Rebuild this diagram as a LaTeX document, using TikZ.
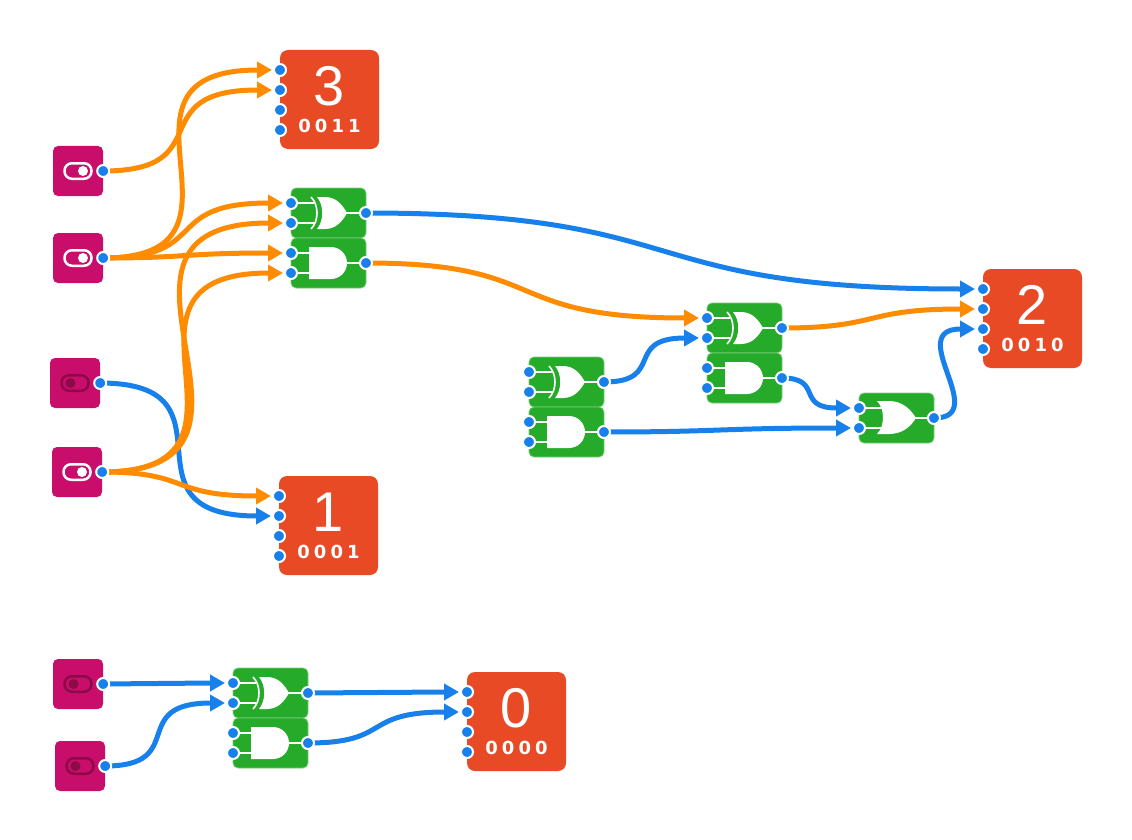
\documentclass[tikz,border=0pt]{standalone}
\usepackage{fontspec}
\newfontfamily\dispfont{Liberation Sans}
\newfontfamily\bitsfont{DejaVu Sans}
\usetikzlibrary{calc,arrows.meta}
\definecolor{swcol}{RGB}{200,14,106}
\definecolor{swdark}{RGB}{140,10,72}
\definecolor{dispcol}{RGB}{233,74,38}
\definecolor{gatecol}{RGB}{38,170,42}
\definecolor{gateseam}{RGB}{120,205,120}
\definecolor{wireblue}{RGB}{24,128,235}
\definecolor{wireorange}{RGB}{255,140,0}
\tikzset{
  switchbox/.style={rectangle, rounded corners=5pt, fill=swcol, minimum size=50pt, inner sep=0pt},
  dispbox/.style={rectangle, rounded corners=8pt, fill=dispcol, minimum size=99pt, inner sep=0pt},
  gatebox/.style={rectangle, rounded corners=5pt, fill=gatecol, draw=gateseam, line width=0.7pt, minimum width=75pt, minimum height=50pt, inner sep=0pt},
  gatesym/.style={fill=white, draw=none},
  gateline/.style={draw=white, line width=1.6pt},
  wire/.style={line width=5pt, -{Triangle[length=15pt,width=16pt]}},
  wireon/.style={wire, draw=wireorange},
  wireoff/.style={wire, draw=wireblue},
  port/.style={fill=wireblue, draw=white, line width=2pt},
  digit/.style={font=\dispfont\fontsize{56}{56}\selectfont, text=white, inner sep=0pt},
  bits/.style={font=\bitsfont\bfseries\fontsize{18}{18}\selectfont, text=white, inner sep=0pt},
}
\newcommand\bitstr[4]{#1\kern4pt#2\kern4pt#3\kern4pt#4}
% switches: name, x0, y0
\newcommand\switchon[3]{%
  \node[switchbox] (#1) at (#2+25,#3+25) {};
  \draw[white, line width=2.5pt, rounded corners=7.5pt] (#2+11.5,#3+17.25) rectangle (#2+38.5,#3+32.75);
  \fill[white] (#2+30,#3+25) circle (5pt);
  \coordinate (#1-o) at (#1.east);}
\newcommand\switchoff[3]{%
  \node[switchbox] (#1) at (#2+25,#3+25) {};
  \draw[swdark, line width=2.5pt, rounded corners=7.5pt] (#2+11.5,#3+17.25) rectangle (#2+38.5,#3+32.75);
  \fill[swdark] (#2+20.5,#3+25) circle (5pt);
  \coordinate (#1-o) at (#1.east);}
% displays: name, x0, y0, digit, bits
\newcommand\display[5]{%
  \node[dispbox] (#1) at (#2+49.5,#3+49.5) {};
  \node[digit] (#1-n) at (#2+49.5,#3+36) {#4};
  \node[bits] (#1-b) at (#2+49.5,#3+75.5) {#5};
  \coordinate (#1-1) at (#2,#3+20);
  \coordinate (#1-2) at (#2,#3+40);
  \coordinate (#1-3) at (#2,#3+60);
  \coordinate (#1-4) at (#2,#3+80);}
% gates: name, x0, y0
\newcommand\gateports[3]{%
  \coordinate (#1-a) at (#2,#3+15);
  \coordinate (#1-b) at (#2,#3+35);
  \coordinate (#1-o) at (#2+75,#3+25);}
\newcommand\gxor[3]{%
  \node[gatebox] (#1) at (#2+37.5,#3+25) {};
  \begin{scope}[shift={(#2,#3)}]
    \draw[gateline] (0,15) -- (23,15) (0,35) -- (23,35) (55,25) -- (75,25);
    \draw[gateline] (20,9) .. controls (28,17) and (28,33) .. (20,41);
    \fill[gatesym] (26,9) -- (34,9) .. controls (46,9) and (52,18) .. (56,25)
      .. controls (52,32) and (46,41) .. (34,41) -- (26,41)
      .. controls (33,33) and (33,17) .. cycle;
  \end{scope}
  \gateports{#1}{#2}{#3}}
\newcommand\gor[3]{%
  \node[gatebox] (#1) at (#2+37.5,#3+25) {};
  \begin{scope}[shift={(#2,#3)}]
    \draw[gateline] (0,15) -- (24,15) (0,35) -- (24,35) (56,25) -- (75,25);
    \fill[gatesym] (18,8) -- (30,8) .. controls (44,8) and (52,17) .. (57,25)
      .. controls (52,33) and (44,41) .. (30,41) -- (18,41)
      .. controls (26,33) and (26,16) .. cycle;
  \end{scope}
  \gateports{#1}{#2}{#3}}
\newcommand\gand[3]{%
  \node[gatebox] (#1) at (#2+37.5,#3+25) {};
  \begin{scope}[shift={(#2,#3)}]
    \draw[gateline] (0,15) -- (20,15) (0,35) -- (20,35) (55,25) -- (75,25);
    \fill[gatesym] (18,9) -- (40,9) .. controls (48.8,9) and (56,16.2) .. (56,25)
      .. controls (56,33.8) and (48.8,41) .. (40,41) -- (18,41) -- cycle;
  \end{scope}
  \gateports{#1}{#2}{#3}}
% wire: style, from, to, control distance
\newcommand\wire[4]{\draw[#1] (#2) .. controls +(#4,0) and +(-#4,0) .. ($(#3)+(-22,0)$) -- ($(#3)+(-8,0)$);}
\begin{document}
\begin{tikzpicture}[x=1pt,y=-1pt]
\fill[white] (0,0) rectangle (1132,840);
\useasboundingbox (0,0) rectangle (1132,840);
% switches
\switchon{s1}{53}{146}
\switchon{s2}{53}{233}
\switchoff{s3}{50}{358}
\switchon{s4}{52}{447}
\switchoff{s5}{53}{659}
\switchoff{s6}{55}{741}
% displays
\display{d3}{280}{50}{3}{\bitstr0011}
\display{d2}{983}{269}{2}{\bitstr0010}
\display{d1}{279}{476}{1}{\bitstr0001}
\display{d0}{467}{672}{0}{\bitstr0000}
% gates
\gxor{gtx}{291}{188}
\gand{gta}{291}{238}
\gxor{gax}{529}{357}
\gand{gaa}{529}{407}
\gxor{gbx}{707}{303}
\gand{gba}{707}{353}
\gor{gc}{859}{393}
\gxor{g0x}{233}{668}
\gand{g0a}{233}{718}
% wires (value 0)
\wire{wireoff}{s3-o}{d1-2}{145}
\wire{wireoff}{gtx-o}{d2-1}{335}
\wire{wireoff}{gax-o}{gbx-b}{62}
\wire{wireoff}{gaa-o}{gc-b}{118}
\wire{wireoff}{gba-o}{gc-a}{42}
\wire{wireoff}{gc-o}{d2-3}{58}
\wire{wireoff}{s5-o}{g0x-a}{54}
\wire{wireoff}{s6-o}{g0x-b}{84}
\wire{wireoff}{g0x-o}{d0-1}{69}
\wire{wireoff}{g0a-o}{d0-2}{84}
% wires (value 1)
\wire{wireon}{s2-o}{d3-1}{171}
\wire{wireon}{s1-o}{d3-2}{118}
\wire{wireon}{s2-o}{gtx-a}{110}
\wire{wireon}{s2-o}{gta-a}{85}
\wire{wireon}{s4-o}{gtx-b}{208}
\wire{wireon}{s4-o}{gta-b}{183}
\wire{wireon}{s4-o}{d1-1}{89}
\wire{wireon}{gta-o}{gbx-a}{187}
\wire{wireon}{gbx-o}{d2-2}{99}
% ports
\foreach \p in {s1-o,s2-o,s3-o,s4-o,s5-o,s6-o,
  d3-1,d3-2,d3-3,d3-4,d2-1,d2-2,d2-3,d2-4,d1-1,d1-2,d1-3,d1-4,d0-1,d0-2,d0-3,d0-4,
  gtx-a,gtx-b,gtx-o,gta-a,gta-b,gta-o,gax-a,gax-b,gax-o,gaa-a,gaa-b,gaa-o,
  gbx-a,gbx-b,gbx-o,gba-a,gba-b,gba-o,gc-a,gc-b,gc-o,g0x-a,g0x-b,g0x-o,g0a-a,g0a-b,g0a-o}
  \filldraw[port] (\p) circle (6pt);
\end{tikzpicture}
\end{document}
